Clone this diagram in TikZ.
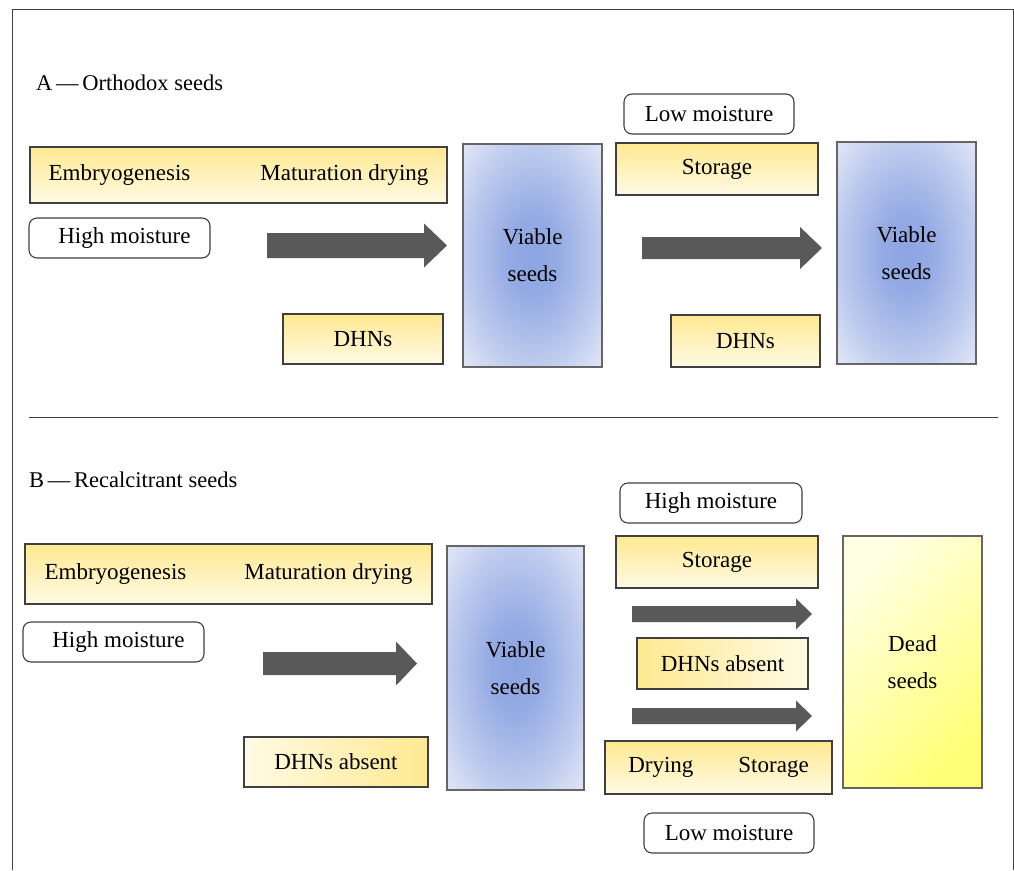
\documentclass[tikz,border=0pt]{standalone}
\usepackage{fontspec}
\setmainfont{Liberation Serif}

\definecolor{edge}{RGB}{64,64,64}
\definecolor{ylwtop}{RGB}{255,233,145}
\definecolor{ylwbot}{RGB}{255,250,228}
\definecolor{bluein}{RGB}{140,164,226}
\definecolor{blueout}{RGB}{222,228,246}
\definecolor{deadlight}{RGB}{255,255,228}
\definecolor{deaddeep}{RGB}{255,255,118}
\definecolor{flowgray}{RGB}{89,89,89}

% soft glow for the seed boxes
\pgfdeclareradialshading{seedglow}{\pgfpoint{0bp}{0bp}}{%
  color(0bp)=(bluein); color(9bp)=(bluein!90!blueout);
  color(24bp)=(bluein!40!blueout); color(34bp)=(blueout); color(50bp)=(blueout)}

% fat block arrow: tail x, tip x, centre y, half shaft, half head, head length
\newcommand{\fatarrow}[6]{%
  \fill[flowgray] (#1,#3-#4) -- (#2-#6,#3-#4) -- (#2-#6,#3-#5) -- (#2,#3)
    -- (#2-#6,#3+#5) -- (#2-#6,#3+#4) -- (#1,#3+#4) -- cycle;}

\begin{document}
\begin{tikzpicture}[
   x=1pt, y=-1pt,
   every node/.style={inner sep=0pt, font=\fontsize{23}{37}\selectfont},
   stage/.style={rectangle, draw=edge, line width=1.1pt, top color=ylwtop, bottom color=ylwbot},
   moist/.style={rectangle, rounded corners=8pt, draw=edge, line width=1.1pt, fill=white},
   viable/.style={rectangle, draw=edge!80, line width=1.1pt, shading=seedglow, align=center},
   dead/.style={rectangle, draw=edge!80, line width=1.1pt, top color=deadlight, bottom color=deaddeep, shading angle=45, align=center},
   title/.style={anchor=west, font=\fontsize{22.5}{26}\selectfont}
]
\useasboundingbox (0,0) rectangle (1014,870);
\draw[edge, line width=1pt] (12,870) -- (12,9) -- (1013,9) -- (1013,870);

% A: orthodox seeds
\node[title] (titleA) at (36,83) {A\,---\,Orthodox seeds};
\node[stage, minimum width=417pt, minimum height=56pt] (embA) at (238.5,175) {Embryogenesis\hspace{70pt}Maturation drying};
\node[moist, minimum width=181pt, minimum height=40pt] (highA) at (119.5,238) {\hspace{10pt}High moisture};
\node[stage, minimum width=160pt, minimum height=50pt] (dhnA) at (363,339) {DHNs};
\node[viable, minimum width=139pt, minimum height=223pt] (viaA) at (532.5,255.5) {Viable\\seeds};
\node[moist, minimum width=170pt, minimum height=40pt] (lowA) at (709,114) {Low moisture};
\node[stage, minimum width=202pt, minimum height=52pt] (stoA) at (717,169) {Storage};
\node[stage, minimum width=149pt, minimum height=52pt] (dhnA2) at (745.5,341) {DHNs};
\node[viable, minimum width=139pt, minimum height=222pt] (viaA2) at (906.5,253) {Viable\\seeds};
\fatarrow{267}{447}{245.5}{12.5}{22}{23}
\fatarrow{642}{822}{248}{11}{21}{22}

\draw[edge, line width=1pt] (29,417) -- (998,417);

% B: recalcitrant seeds
\node[title] (titleB) at (29,480) {B\,---\,Recalcitrant seeds};
\node[stage, minimum width=407pt, minimum height=60pt] (embB) at (228.5,574) {Embryogenesis\hspace{58pt}Maturation drying};
\node[moist, minimum width=181pt, minimum height=40pt] (highB) at (113.5,642) {\hspace{10pt}High moisture};
\node[stage, left color=ylwbot, right color=ylwtop, minimum width=184pt, minimum height=50pt] (dhnB) at (336,762) {DHNs absent};
\node[viable, minimum width=137pt, minimum height=244pt] (viaB) at (515.5,668) {Viable\\seeds};
\node[moist, minimum width=182pt, minimum height=40pt] (highB2) at (711,503) {High moisture};
\node[stage, minimum width=202pt, minimum height=52pt] (stoB) at (717,562) {Storage};
\node[stage, left color=ylwtop, right color=ylwbot, minimum width=171pt, minimum height=51pt] (dhnB2) at (722.5,663.5) {DHNs absent};
\node[stage, minimum width=227pt, minimum height=53pt] (dryB) at (718.5,767.5) {Drying\hspace{45pt}Storage};
\node[moist, minimum width=170pt, minimum height=40pt] (lowB) at (729,833) {Low moisture};
\node[dead, minimum width=139pt, minimum height=252pt] (deadB) at (912.5,662) {Dead\\seeds};
\fatarrow{263}{417}{663.5}{11.5}{22}{21}
\fatarrow{632}{812}{614}{8}{15.5}{16}
\fatarrow{632}{812}{716}{8}{15.5}{16}

\end{tikzpicture}
\end{document}
